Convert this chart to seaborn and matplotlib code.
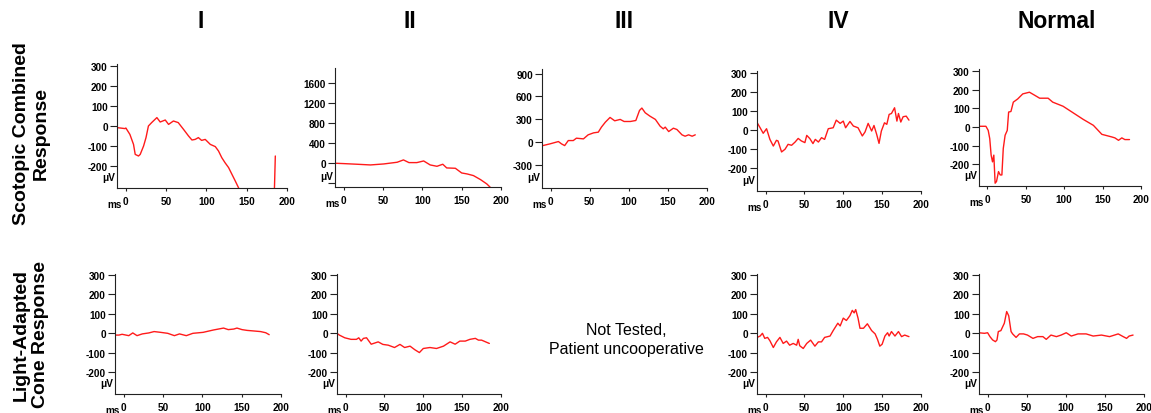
import numpy as np
import pandas as pd
import matplotlib
matplotlib.use("Agg")
import matplotlib.pyplot as plt
import seaborn as sns

# ---------------- data ----------------
col_titles = ["I", "II", "III", "IV", "Normal"]
row_titles = ["Scotopic Combined\nResponse", "Light-Adapted\nCone Response"]
x_ticks = [0, 50, 100, 150, 200]

# Scotopic combined response
t_scot_I = [-11, -1, 0, 5, 9.5, 11.6, 15.7, 17.8, 22, 25, 28, 32, 38.5, 42.6, 48.9, 53, 59, 65,
            71.6, 77.8, 82, 86, 90, 94, 98.5, 104.8, 111, 115, 119, 123, 127.5, 131.7, 135.8,
            140, 145, 160, 183, 184.5, 185.5]
v_scot_I = [-8, -13, -10, -42, -92, -142, -150, -142, -100, -58, 0, 17, 42, 20, 30, 8, 25, 17,
            -17, -50, -70, -67, -58, -72, -67, -92, -103, -125, -158, -183, -208, -242, -275,
            -310, -380, -450, -450, -300, -150]

t_scot_II = [-10.6, 0, 17, 34, 51, 68, 76, 83, 93, 101.7, 110, 118.6, 126, 131, 142, 150, 157,
             165, 174, 182, 186.4]
v_scot_II = [-13, -20, -33, -47, -27, 7, 54, 0, 0, 33, -47, -74, -33, -107, -114, -208, -228,
             -261, -342, -429, -497]

t_scot_III = [-10, -1, 10, 14, 18, 22.6, 29, 33, 42, 48, 55, 61, 65, 70, 76, 82, 89, 94, 102,
              109, 113.7, 116.7, 121, 127, 134, 140, 144, 146.6, 151, 157, 161.5, 168, 172,
              176.5, 181, 185]
v_scot_III = [-44, -22, 9, -22, -44, 22, 22, 53, 44, 97, 123, 132, 198, 263, 325, 281, 299, 272,
              272, 285, 417, 448, 386, 342, 299, 211, 176, 198, 140, 184, 167, 97, 79, 97, 79, 97]

t_scot_IV = [-10.7, -7, -3, 1.3, 5.6, 10, 14, 16, 20.6, 25, 29, 33.5, 38, 42, 46, 50.6, 53, 57,
             61, 64, 68, 72, 76, 80.7, 87, 91, 96, 100, 103, 108.6, 113, 119, 124.5, 128, 132,
             136.5, 139.5, 143, 146, 149, 153, 156, 159, 162, 166, 169, 171, 174, 177, 181, 184.5]
v_scot_IV = [38, 12, -17, 7, -49, -84, -54, -57, -115, -101, -75, -80, -63, -44, -57, -66, -28,
             -45, -71, -49, -63, -40, -49, 7, 12, 52, 35, 47, 12, 45, 21, 12, -31, -10, 35, -5,
             24, -23, -70, -5, 38, 30, 82, 87, 117, 47, 87, 42, 70, 73, 52]

t_scot_N = [-12, -2, 1, 3, 4.8, 6.6, 8.3, 10, 11.8, 14.4, 16.6, 18.8, 20.6, 23, 25.8, 27.6, 30.6,
            33.7, 39.4, 46, 54.7, 61, 68, 79, 85, 98.5, 111.6, 124.7, 138, 149, 162, 166, 170.7,
            175, 179, 185]
v_scot_N = [4, 4, -18, -62, -150, -186, -150, -300, -291, -238, -256, -256, -115, -44, -18, 80,
            83, 133, 150, 177, 186, 171, 154, 154, 133, 111, 76, 41, 9, -39, -53, -58, -71, -58,
            -67, -67]

# Light-adapted cone response
t_cone_I = [-11.6, -6, -2, 6.5, 11.6, 17, 23.7, 32, 38.7, 47, 56, 64.5, 71, 79.6, 88, 101, 114,
            127, 133, 140, 144, 150.5, 157, 165.6, 174, 180.6, 185]
v_cone_I = [-9, -9, -5, -12, 2, -12, -3, 2, 9, 5, 0, -12, -3, -12, 0, 5, 17, 27, 19, 22, 27, 19,
            15, 12, 9, 3, -7]

t_cone_II = [-11, -8, -1, 7, 14, 17, 20, 23, 27, 33, 42, 48, 55, 63, 70, 76, 83, 89, 95, 100,
             108.6, 117, 126, 134.5, 141, 147, 154, 160, 167, 171, 175, 182, 185]
v_cone_II = [0, -9, -23, -31, -31, -23, -40, -26, -23, -56, -44, -57, -61, -73, -57, -73, -66,
             -84, -99, -78, -73, -78, -66, -44, -56, -40, -40, -31, -26, -35, -35, -47, -52]

t_cone_IV = [-10.7, -7, -4, -1, 2.6, 5.6, 10, 14, 18.5, 22.7, 27, 31, 35.6, 40, 42, 44, 48.5, 53,
             58, 63.5, 68, 72, 76, 83, 87, 93, 96, 100, 104, 108.6, 111.6, 114, 116, 119, 121.5,
             126, 131, 136.5, 141, 144, 147, 150, 153.6, 157, 159, 162, 166.5, 171, 175, 179,
             184.5]
v_cone_IV = [-21, -14, 0, -26, -21, -38, -73, -44, -21, -52, -40, -61, -52, -61, -31, -64, -78,
             -52, -35, -66, -44, -44, -21, -14, 14, 52, 38, 78, 66, 91, 118, 105, 122, 78, 26, 26,
             49, 14, -3, -31, -66, -56, -14, 3, -14, 9, -14, 9, -17, -9, -17]

t_cone_N = [-11.6, -4, 0, 3, 6.4, 10, 12, 13.7, 17, 21.4, 24.4, 27, 30, 32, 36.4, 40.7, 46, 51,
            58, 64, 70.7, 75, 81, 88, 94, 100.6, 107, 115.6, 126, 135, 145.6, 156, 167, 173.4,
            177.7, 181, 186]
v_cone_N = [3, 0, 3, -17, -34, -43, -34, 9, 14, 52, 112, 90, 9, -3, -21, -3, -3, -9, -26, -17,
            -17, -31, -9, -17, -9, 3, -14, -3, -3, -14, -9, -17, -3, -17, -26, -14, -9]

# ---------------- style ----------------
sns.set_style("ticks")
plt.rcParams["font.family"] = ["Liberation Sans", "DejaVu Sans"]
plt.rcParams["axes.linewidth"] = 0.8
plt.rcParams["text.color"] = "black"
plt.rcParams["xtick.color"] = "black"
plt.rcParams["ytick.color"] = "black"
plt.rcParams["axes.edgecolor"] = "black"

W, H = 1151, 414
fig = plt.figure(figsize=(W / 100, H / 100), dpi=100)

# panel specs: (t, v, ylim, yticks, yticklabels, box px: left, right, top, bottom)
panels = [
    (t_scot_I, v_scot_I, (-310, 310), [-200, -100, 0, 100, 200, 300], None, (117, 287, 65, 189)),
    (t_scot_II, v_scot_II, (-490, 1900), [-400, 0, 400, 800, 1200, 1600],
     ["", "0", "400", "800", "1200", "1600"], (335, 501, 69, 188)),
    (t_scot_III, v_scot_III, (-600, 960), [-300, 0, 300, 600, 900], None, (542, 707, 70, 189)),
    (t_scot_IV, v_scot_IV, (-320, 310), [-200, -100, 0, 100, 200, 300], None, (757, 921, 72, 192)),
    (t_scot_N, v_scot_N, (-315, 310), [-200, -100, 0, 100, 200, 300], None, (979, 1141, 70, 187)),
    (t_cone_I, v_cone_I, (-312, 305), [-200, -100, 0, 100, 200, 300], None, (115, 281, 275, 395)),
    (t_cone_II, v_cone_II, (-312, 305), [-200, -100, 0, 100, 200, 300], None, (337, 501, 275, 395)),
    (t_cone_IV, v_cone_IV, (-312, 305), [-200, -100, 0, 100, 200, 300], None, (757, 921, 275, 395)),
    (t_cone_N, v_cone_N, (-312, 305), [-200, -100, 0, 100, 200, 300], None, (979, 1144, 275, 395)),
]

tick_font = dict(fontsize=7.2, fontweight="bold", color="black")

for t, v, ylim, yt, ytl, (l, r, tp, b) in panels:
    ax = fig.add_axes([l / W, 1 - b / H, (r - l) / W, (b - tp) / H])
    df = pd.DataFrame({"t": t, "v": v})
    sns.lineplot(data=df, x="t", y="v", ax=ax, color="#ff1a1a", linewidth=1.0)
    ax.set_xlim(-11, 200)
    ax.set_ylim(*ylim)
    ax.set_xticks(x_ticks)
    ax.set_xticklabels([str(x) for x in x_ticks], **tick_font)
    ax.set_yticks(yt)
    ax.set_yticklabels(ytl if ytl is not None else [str(y) for y in yt], **tick_font)
    ax.tick_params(axis="y", length=5, width=0.8, pad=1.5, colors="#222222", labelcolor="black")
    ax.tick_params(axis="x", length=2.5, width=0.8, pad=3.5, colors="#222222", labelcolor="black")
    ax.set_xlabel("")
    ax.set_ylabel("")
    sns.despine(ax=ax)
    for s in ("left", "bottom"):
        ax.spines[s].set_color("#222222")
    ax.annotate("ms", xy=(0, 0), xycoords="axes fraction", xytext=(3.5, -11.5),
                textcoords="offset points", ha="right", va="center", **tick_font)
    ax.annotate("μV", xy=(0, 0), xycoords="axes fraction", xytext=(-1.5, 8),
                textcoords="offset points", ha="right", va="center", **tick_font)

# column titles
for name, xc in zip(col_titles, [201, 410, 624, 838, 1057]):
    fig.text(xc / W, 1 - 21 / H, name, ha="center", va="center",
             fontsize=16.5, fontweight="bold", color="black")

# row titles
for txt, yc in zip(row_titles, [134, 335]):
    fig.text(31 / W, 1 - yc / H, txt, ha="center", va="center", rotation=90,
             fontsize=14, fontweight="bold", linespacing=1.2, color="black")

fig.text(626 / W, 1 - 340 / H, "Not Tested,\nPatient uncooperative", ha="center",
         va="center", fontsize=11.5, linespacing=1.3, color="black")

fig.savefig("out.png", dpi=100)
